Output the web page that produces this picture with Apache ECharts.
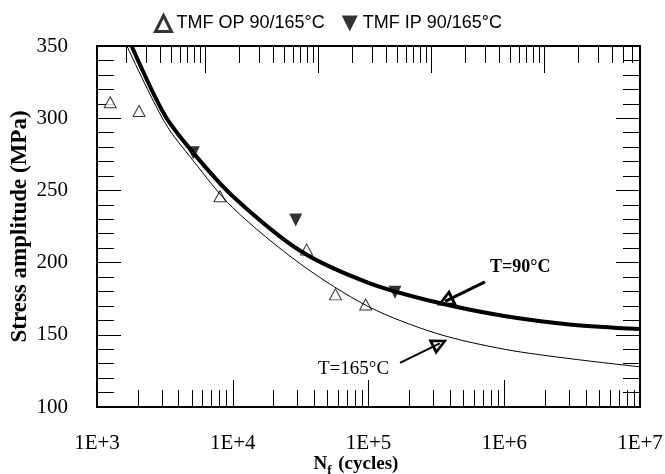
<!DOCTYPE html>
<html>
<head>
<meta charset="utf-8">
<script src="https://cdn.jsdelivr.net/npm/echarts@6/dist/echarts.min.js"></script>
<style>
  html, body { margin: 0; padding: 0; background: #fff; }
  #chart { width: 665px; height: 474px; }
</style>
</head>
<body>
<div id="chart"></div>
<script>
// measured points, [cycles, MPa]
const opPoints = [[1250, 311], [2040, 305], [8050, 246], [35000, 209], [57100, 178], [95300, 171]];
const ipPoints = [[5120, 276], [29100, 229.5], [156700, 179.5]];

// fitted curves
const curve90 = [[1800, 350], [3160, 302], [5120, 276], [10000, 246], [31600, 208], [100000, 186],
  [316000, 172.5], [1000000, 163], [3160000, 157], [10000000, 154]];
const curve165 = [[1660, 350], [3160, 297], [5120, 270.5], [10000, 238], [31600, 199], [100000, 169.5],
  [316000, 151], [1000000, 140], [3160000, 133.3], [10000000, 127.8]];

const xTickLabels = ['1E+3', '1E+4', '1E+5', '1E+6', '1E+7'];
const decades = [3, 4, 5, 6];
const minorSteps = [2, 3, 4, 5, 6, 7, 8, 9];

// the top frame of the original carries its own (narrower) decade ticks
const topRange = [3.044, 7.849];
const topDecades = [3, 4, 5, 6, 7];

// arrows: [from, to] in data coords
const arrow90 = [[721000, 186.6], [367000, 173.1]];
const arrow165 = [[170600, 130.5], [335000, 144.0]];

const minorExp = [];
decades.forEach(d => minorSteps.forEach(k => minorExp.push(d + Math.log10(k))));
const topMinorExp = [];
topDecades.forEach(d => minorSteps.forEach(k => {
  const v = d + Math.log10(k);
  if (v > topRange[0] && v < topRange[1]) topMinorExp.push(v);
}));
const topMajorExp = topDecades.filter(d => d > topRange[0] && d < topRange[1]);

const hollowTri = 'path://M5,0L10,12L0,12Z M5,4L2.6,10L7.4,10Z';
const downTri = 'path://M0,0L10,0L5,10Z';
const serif = 'Liberation Serif';
const gridRect = { left: 97, right: 25, top: 46, bottom: 67, outerBoundsMode: 'none', containLabel: false };
const black = { color: '#000' };

function tickAxis(grid, pos, range, values, len) {
  return {
    type: 'value', gridIndex: grid, position: pos, min: range[0], max: range[1],
    axisLine: { show: false },
    axisTick: { inside: true, length: len, customValues: values, lineStyle: black },
    axisLabel: { show: false },
    splitLine: { show: false }
  };
}

const chart = echarts.init(document.getElementById('chart'));
const option = {
  animation: false,
  backgroundColor: '#fff',
  legend: {
    top: 9,
    left: 149,
    itemWidth: 16,
    itemHeight: 16,
    itemGap: 17,
    textStyle: { fontFamily: 'Liberation Sans', fontSize: 18, color: '#000' },
    data: [
      { name: 'TMF OP 90/165°C', icon: 'triangle', itemStyle: { color: '#fff', borderColor: '#000', borderWidth: 3 } },
      { name: 'TMF IP 90/165°C', icon: downTri, itemStyle: { color: '#000' } }
    ]
  },
  grid: [
    Object.assign({}, gridRect),
    Object.assign({}, gridRect),
    Object.assign({}, gridRect)
  ],
  xAxis: [
    {
      type: 'log', gridIndex: 0, position: 'bottom', min: 1000, max: 10000000, logBase: 10,
      axisLine: { lineStyle: { color: '#000', width: 2 } },
      axisTick: { inside: true, length: 27, lineStyle: black },
      axisLabel: {
        margin: 26, color: '#000', fontFamily: serif, fontSize: 21,
        formatter: v => xTickLabels[Math.round(Math.log10(v)) - 3]
      },
      splitLine: { show: false },
      name: '{n|N}{s|f}  {n|(cycles)}',
      nameLocation: 'middle',
      nameGap: 45,
      nameMoveOverlap: false,
      nameTextStyle: {
        padding: [0, 25, 0, 0],
        rich: {
          n: { fontFamily: serif, fontWeight: 'bold', fontSize: 19, color: '#000' },
          s: { fontFamily: serif, fontWeight: 'bold', fontSize: 13, color: '#000', padding: [12, 0, 0, 0] }
        }
      }
    },
    {
      type: 'log', gridIndex: 0, position: 'top', min: 1000, max: 10000000, logBase: 10,
      axisLine: { lineStyle: { color: '#000', width: 2 } },
      axisTick: { show: false },
      axisLabel: { show: false },
      splitLine: { show: false }
    },
    tickAxis(1, 'bottom', [3, 7], minorExp, 17),
    tickAxis(1, 'top', topRange, topMinorExp, 17),
    tickAxis(2, 'top', topRange, topMajorExp, 27)
  ],
  yAxis: [
    {
      type: 'value', gridIndex: 0, position: 'left', min: 100, max: 350, interval: 50,
      axisLine: { show: true, lineStyle: { color: '#000', width: 2 } },
      axisTick: { show: true, inside: true, length: 24, lineStyle: black },
      minorTick: { show: true, splitNumber: 5, length: 17, lineStyle: black },
      axisLabel: { margin: 29, color: '#000', fontFamily: serif, fontSize: 21 },
      splitLine: { show: false },
      name: 'Stress amplitude (MPa)',
      nameLocation: 'middle',
      nameGap: 65,
      nameMoveOverlap: false,
      nameTextStyle: { fontFamily: serif, fontWeight: 'bold', fontSize: 23, color: '#000' }
    },
    {
      type: 'value', gridIndex: 0, position: 'right', min: 100, max: 350, interval: 50,
      axisLine: { show: true, lineStyle: { color: '#000', width: 2 } },
      axisTick: { show: true, inside: true, length: 24, lineStyle: black },
      minorTick: { show: true, splitNumber: 5, length: 17, lineStyle: black },
      axisLabel: { show: false },
      splitLine: { show: false }
    },
    { type: 'value', gridIndex: 1, min: 100, max: 350, show: false },
    { type: 'value', gridIndex: 2, min: 100, max: 350, show: false }
  ],
  series: [
    {
      name: 'T=90°C', type: 'line', xAxisIndex: 0, yAxisIndex: 0,
      data: curve90, smooth: 0.3, showSymbol: false, silent: true,
      lineStyle: { color: '#000', width: 4 },
      markLine: {
        silent: true, symbol: ['none', hollowTri], symbolSize: 18,
        lineStyle: { color: '#000', width: 3, type: 'solid' },
        label: { show: false },
        data: [[{ coord: arrow90[0] }, { coord: arrow90[1] }]]
      }
    },
    {
      name: 'T=165°C', type: 'line', xAxisIndex: 0, yAxisIndex: 0,
      data: curve165, smooth: 0.3, showSymbol: false, silent: true,
      lineStyle: { color: '#000', width: 1 },
      markLine: {
        silent: true, symbol: ['none', hollowTri], symbolSize: 17,
        lineStyle: { color: '#000', width: 2, type: 'solid' },
        label: { show: false },
        data: [[{ coord: arrow165[0] }, { coord: arrow165[1] }]]
      }
    },
    {
      name: 'TMF OP 90/165°C', type: 'scatter', xAxisIndex: 0, yAxisIndex: 0,
      data: opPoints, symbol: 'triangle', symbolSize: [12, 11],
      itemStyle: { color: '#fff', borderColor: '#000', borderWidth: 1 }
    },
    {
      name: 'TMF IP 90/165°C', type: 'scatter', xAxisIndex: 0, yAxisIndex: 0,
      data: ipPoints, symbol: downTri, symbolSize: [13, 13],
      itemStyle: { color: '#000' }
    }
  ],
  graphic: [
    { type: 'text', left: 490, top: 258, style: { text: 'T=90°C', fontFamily: serif, fontWeight: 'bold', fontSize: 18, fill: '#000' } },
    { type: 'text', left: 318, top: 360, style: { text: 'T=165°C', fontFamily: serif, fontSize: 19, fill: '#000' } }
  ]
};
chart.setOption(option);
</script>
</body>
</html>
